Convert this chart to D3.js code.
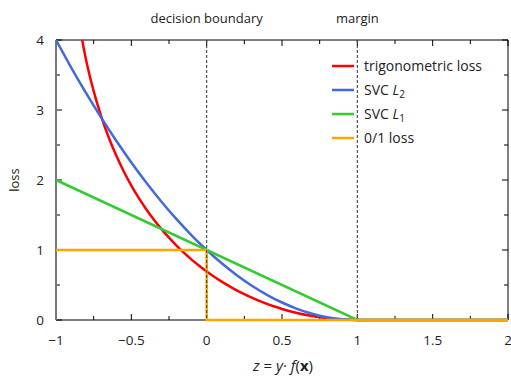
<!DOCTYPE html>
<html><head><meta charset="utf-8">
<script src="https://cdn.jsdelivr.net/npm/d3@7"></script>
<style>body{margin:0;background:#fff;} text{font-family:"Open Sans","DejaVu Sans",sans-serif;fill:#222;}</style>
</head><body>
<svg id="c" width="511" height="377"></svg>
<script>
const trigZ = [-0.85,-0.8,-0.75,-0.7,-0.65,-0.6,-0.55,-0.5,-0.45,-0.4,-0.35,-0.3,-0.25,-0.2,-0.15,-0.1,-0.05,0,0.05,0.1,0.15,0.2,0.25,0.3,0.35,0.4,0.45,0.5,0.6,0.7,0.8,0.9,1,2];
const trigLoss = [4.282,3.710,3.269,2.910,2.608,2.349,2.122,1.921,1.741,1.579,1.432,1.298,1.176,1.063,0.959,0.863,0.775,0.693,0.618,0.548,0.483,0.424,0.369,0.319,0.273,0.231,0.193,0.158,0.100,0.056,0.025,0.006,0,0];
const l2Z = [-1,-0.9,-0.8,-0.7,-0.6,-0.5,-0.4,-0.3,-0.2,-0.1,0,0.1,0.2,0.3,0.4,0.5,0.6,0.7,0.8,0.9,1,2];
const l2Loss = [4,3.61,3.24,2.89,2.56,2.25,1.96,1.69,1.44,1.21,1,0.81,0.64,0.49,0.36,0.25,0.16,0.09,0.04,0.01,0,0];
const l1Z = [-1,1,2];
const l1Loss = [2,0,0];
const zoZ = [-1,0,0,2];
const zoLoss = [1,1,0,0];
const seriesNames = ["trigonometric loss","SVC L2","SVC L1","0/1 loss"];
const xTicks = [-1,-0.5,0,0.5,1,1.5,2];
const yTicks = [0,1,2,3,4];
const markers = [{z:0,label:"decision boundary"},{z:1,label:"margin"}];

const svg = d3.select("#c");
const L=56,R=508,T=40,B=320;
const x = d3.scaleLinear().domain([-1,2]).range([L,R]);
const y = d3.scaleLinear().domain([0,4]).range([B,T]);

svg.append("defs").append("clipPath").attr("id","clip").append("rect")
  .attr("x",L).attr("y",T).attr("width",R-L+2).attr("height",B-T+2);

const g = svg.append("g");
d3.range(-1,2.001,0.25).forEach(v=>{
  const major = Math.abs(v*2-Math.round(v*2))<1e-6;
  const len = major?6:4;
  g.append("line").attr("x1",x(v)).attr("x2",x(v)).attr("y1",B).attr("y2",B-len).attr("stroke","#000");
  g.append("line").attr("x1",x(v)).attr("x2",x(v)).attr("y1",T).attr("y2",T+len).attr("stroke","#000");
});
d3.range(0,4.001,0.5).forEach(v=>{
  const major = Math.abs(v-Math.round(v))<1e-6;
  const len = major?6:4;
  g.append("line").attr("x1",L).attr("x2",L+len).attr("y1",y(v)).attr("y2",y(v)).attr("stroke","#000");
  g.append("line").attr("x1",R).attr("x2",R-len).attr("y1",y(v)).attr("y2",y(v)).attr("stroke","#000");
});
xTicks.forEach(v=>{
  g.append("text").attr("x",x(v)).attr("y",345).attr("text-anchor","middle").attr("font-size",13.5)
   .text(v<0?"\u2212"+Math.abs(v):String(v));
});
yTicks.forEach(v=>{
  g.append("text").attr("x",44).attr("y",y(v)+5).attr("text-anchor","end").attr("font-size",13.5).text(v);
});

svg.append("line").attr("x1",L).attr("x2",R).attr("y1",T).attr("y2",T).attr("stroke","#000");
svg.append("line").attr("x1",R).attr("x2",R).attr("y1",T).attr("y2",B).attr("stroke","#000");
svg.append("line").attr("x1",L).attr("x2",R).attr("y1",B).attr("y2",B).attr("stroke","#000").attr("stroke-width",1.2);
svg.append("line").attr("x1",L).attr("x2",L).attr("y1",T).attr("y2",B).attr("stroke","#777").attr("stroke-width",2);

const colors = ["#ff0000","#4169e1","#33cc33","#ffa500"];
const data = [
  trigZ.map((z,i)=>[z,trigLoss[i]]),
  l2Z.map((z,i)=>[z,l2Loss[i]]),
  l1Z.map((z,i)=>[z,l1Loss[i]]),
  zoZ.map((z,i)=>[z,zoLoss[i]])
];
const curves=[d3.curveMonotoneX,d3.curveMonotoneX,d3.curveLinear,d3.curveLinear];
const plot = svg.append("g").attr("clip-path","url(#clip)");
data.forEach((d,i)=>{
  plot.append("path").datum(d)
    .attr("d",d3.line().x(p=>x(p[0])).y(p=>y(p[1])).curve(curves[i]))
    .attr("fill","none").attr("stroke",colors[i]).attr("stroke-width",2.5);
});

markers.forEach(m=>{
  svg.append("line").attr("x1",x(m.z)).attr("x2",x(m.z)).attr("y1",T).attr("y2",B)
    .attr("stroke","#444").attr("stroke-width",1.1).attr("stroke-dasharray","3,2");
  svg.append("text").attr("x",x(m.z)).attr("y",23).attr("text-anchor","middle").attr("font-size",13).text(m.label);
});

const leg = svg.append("g");
seriesNames.forEach((n,i)=>{
  const yy = 66+i*24;
  leg.append("line").attr("x1",332).attr("x2",354).attr("y1",yy).attr("y2",yy).attr("stroke",colors[i]).attr("stroke-width",2.5);
  const t = leg.append("text").attr("x",364).attr("y",yy+5).attr("font-size",14);
  if(n.startsWith("SVC")){
    t.append("tspan").text("SVC ");
    t.append("tspan").attr("font-style","italic").text("L");
    t.append("tspan").attr("font-size",10).attr("dy",3).text(n.slice(-1));
  } else t.text(n);
});

svg.append("text").attr("transform","translate(19,180) rotate(-90)").attr("text-anchor","middle").attr("font-size",13).text("loss");
const xl = svg.append("text").attr("x",283).attr("y",371).attr("text-anchor","middle").attr("font-size",15);
xl.append("tspan").attr("font-style","italic").text("z");
xl.append("tspan").text(" = ");
xl.append("tspan").attr("font-style","italic").text("y");
xl.append("tspan").text("\u00b7 ");
xl.append("tspan").attr("font-style","italic").text("f");
xl.append("tspan").text("(");
xl.append("tspan").attr("font-weight","bold").text("x");
xl.append("tspan").text(")");
</script>
</body></html>
